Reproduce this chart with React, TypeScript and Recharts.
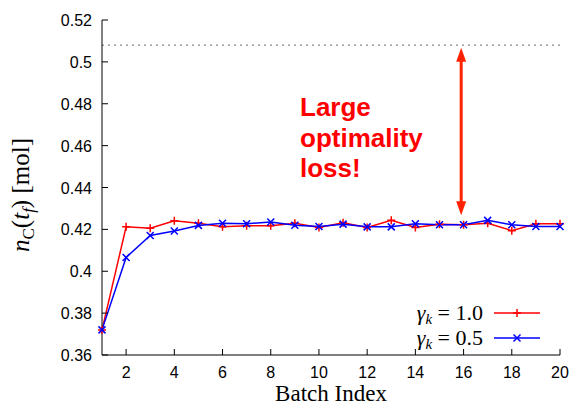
import { Line, LineChart, ReferenceLine, XAxis, YAxis } from "recharts";

const batchIndex = [1, 2, 3, 4, 5, 6, 7, 8, 9, 10, 11, 12, 13, 14, 15, 16, 17, 18, 19, 20];
const gamma10 = [
  0.372, 0.4212, 0.4205, 0.4241, 0.4229, 0.4212, 0.4217, 0.4217, 0.4229, 0.4209,
  0.4232, 0.4209, 0.4243, 0.4209, 0.4224, 0.4222, 0.4229, 0.4194, 0.4227, 0.4227,
];
const gamma05 = [
  0.372, 0.4066, 0.4171, 0.4192, 0.4219, 0.4229, 0.4227, 0.4235, 0.422, 0.4214,
  0.4225, 0.4212, 0.4212, 0.4227, 0.4222, 0.4222, 0.4243, 0.4222, 0.4214, 0.4214,
];
const seriesLabels = ["1.0", "0.5"];
const xTicks = [2, 4, 6, 8, 10, 12, 14, 16, 18, 20];
const yTicks = [0.36, 0.38, 0.4, 0.42, 0.44, 0.46, 0.48, 0.5, 0.52];
const optimum = 0.508;
const arrowX = 15.9;
const arrowFrom = 0.5068;
const arrowTo = 0.4268;
const noteLines = ["Large", "optimality", "loss!"];

const RED = "#ff0000";
const BLUE = "#0000ff";
const ARROW = "#ff2200";
const SANS = "'Liberation Sans', Arial, sans-serif";
const SERIF = "'Liberation Serif', 'Times New Roman', serif";

const data = batchIndex.map((b, i) => ({ batch: b, g10: gamma10[i], g05: gamma05[i] }));

const fmt = (v: number) => String(Number(v.toFixed(2)));

function BottomTick({ x, y, payload }: any) {
  return (
    <g>
      <line x1={x} x2={x} y1={y} y2={y - 6} stroke="#000" />
      <text x={x} y={y + 23} textAnchor="middle" fontFamily={SANS} fontSize={16} fill="#000">
        {payload.value}
      </text>
    </g>
  );
}

function TopTick({ x, y }: any) {
  return <line x1={x} x2={x} y1={y} y2={y + 6} stroke="#000" />;
}

function LeftTick({ x, y, payload }: any) {
  return (
    <g>
      <line x1={x} x2={x + 6} y1={y} y2={y} stroke="#000" />
      <text x={x - 10} y={y + 6} textAnchor="end" fontFamily={SANS} fontSize={16} fill="#000">
        {fmt(payload.value)}
      </text>
    </g>
  );
}

function RightTick({ x, y }: any) {
  return <line x1={x} x2={x - 6} y1={y} y2={y} stroke="#555" />;
}

function plusDot(props: any) {
  const { cx, cy, index } = props;
  return (
    <path
      key={`p${index}`}
      d={`M${cx - 4},${cy}H${cx + 4}M${cx},${cy - 4}V${cy + 4}`}
      stroke={RED}
      strokeWidth={1.5}
    />
  );
}

function crossDot(props: any) {
  const { cx, cy, index } = props;
  return (
    <path
      key={`x${index}`}
      d={`M${cx - 3.5},${cy - 3.5}L${cx + 3.5},${cy + 3.5}M${cx - 3.5},${cy + 3.5}L${cx + 3.5},${cy - 3.5}`}
      stroke={BLUE}
      strokeWidth={1.5}
    />
  );
}

function DoubleArrow(props: any) {
  const { x1, y1, x2, y2 } = props;
  const h = 14;
  const w = 5;
  return (
    <g>
      <line x1={x1} x2={x2} y1={y1 + h - 2} y2={y2 - h + 2} stroke={ARROW} strokeWidth={3} />
      <polygon points={`${x1},${y1} ${x1 - w},${y1 + h} ${x1 + w},${y1 + h}`} fill={ARROW} />
      <polygon points={`${x2},${y2} ${x2 - w},${y2 - h} ${x2 + w},${y2 - h}`} fill={ARROW} />
    </g>
  );
}

function YLabel() {
  return (
    <text
      transform="translate(29,195) rotate(-90)"
      textAnchor="middle"
      fontFamily={SERIF}
      fontSize={25}
      fill="#000"
    >
      <tspan fontStyle="italic">n</tspan>
      <tspan fontSize={17} dy={5}>C</tspan>
      <tspan dy={-5}>(</tspan>
      <tspan fontStyle="italic">t</tspan>
      <tspan fontSize={17} fontStyle="italic" dy={5}>f</tspan>
      <tspan dy={-5}>) [mol]</tspan>
    </text>
  );
}

function LegendRow({ y, label, color, marker }: { y: number; label: string; color: string; marker: "plus" | "cross" }) {
  return (
    <g>
      <text x={483} y={y + 7} textAnchor="end" fontFamily={SERIF} fontSize={22} fill="#000">
        <tspan fontStyle="italic">γ</tspan>
        <tspan fontStyle="italic" fontSize={15} dy={4}>k</tspan>
        <tspan dy={-4}> = {label}</tspan>
      </text>
      <line x1={494} x2={540} y1={y} y2={y} stroke={color} strokeWidth={1.5} />
      {marker === "plus" ? plusDot({ cx: 517, cy: y, index: "l" }) : crossDot({ cx: 517, cy: y, index: "l" })}
    </g>
  );
}

export default function App() {
  return (
    <div style={{ position: "absolute", left: 0, top: 0, width: 574, height: 410, background: "#fff" }}>
      <LineChart width={574} height={410} data={data} margin={{ top: 20, right: 14, bottom: 0, left: 0 }}>
        <XAxis
          xAxisId={0}
          type="number"
          dataKey="batch"
          domain={[1, 20]}
          ticks={xTicks}
          interval={0}
          tickSize={0}
          tickMargin={0}
          height={55}
          tick={<BottomTick />}
          tickLine={false}
          axisLine={{ stroke: "#000" }}
        />
        <XAxis
          xAxisId="top"
          orientation="top"
          type="number"
          domain={[1, 20]}
          ticks={xTicks}
          interval={0}
          tickSize={0}
          tickMargin={0}
          height={0}
          tick={<TopTick />}
          tickLine={false}
          axisLine={{ stroke: "#000" }}
        />
        <YAxis
          yAxisId={0}
          type="number"
          domain={[0.36, 0.52]}
          ticks={yTicks}
          interval={0}
          tickSize={0}
          tickMargin={0}
          width={102}
          tick={<LeftTick />}
          tickLine={false}
          axisLine={{ stroke: "#000" }}
        />
        <YAxis
          yAxisId="right"
          orientation="right"
          type="number"
          domain={[0.36, 0.52]}
          ticks={yTicks}
          interval={0}
          tickSize={0}
          tickMargin={0}
          width={0}
          tick={<RightTick />}
          tickLine={false}
          axisLine={{ stroke: "#555" }}
        />
        <ReferenceLine y={optimum} stroke="#888" strokeWidth={1.2} strokeDasharray="2 4" />
        <ReferenceLine
          segment={[
            { x: arrowX, y: arrowFrom },
            { x: arrowX, y: arrowTo },
          ]}
          shape={<DoubleArrow />}
        />
        <Line
          type="linear"
          dataKey="g10"
          stroke={RED}
          strokeWidth={1.5}
          dot={plusDot}
          isAnimationActive={false}
        />
        <Line
          type="linear"
          dataKey="g05"
          stroke={BLUE}
          strokeWidth={1.5}
          dot={crossDot}
          isAnimationActive={false}
        />
      </LineChart>
      <svg width={574} height={410} style={{ position: "absolute", left: 0, top: 0, pointerEvents: "none" }}>
        {noteLines.map((t, i) => (
          <text key={t} x={300} y={116 + i * 30.5} fontFamily={SANS} fontWeight="bold" fontSize={26} fill={RED}>
            {t}
          </text>
        ))}
        <YLabel />
        <text x={331} y={401} textAnchor="middle" fontFamily={SERIF} fontSize={23} fill="#000">
          Batch Index
        </text>
        <LegendRow y={313} label={seriesLabels[0]} color={RED} marker="plus" />
        <LegendRow y={338} label={seriesLabels[1]} color={BLUE} marker="cross" />
      </svg>
    </div>
  );
}
